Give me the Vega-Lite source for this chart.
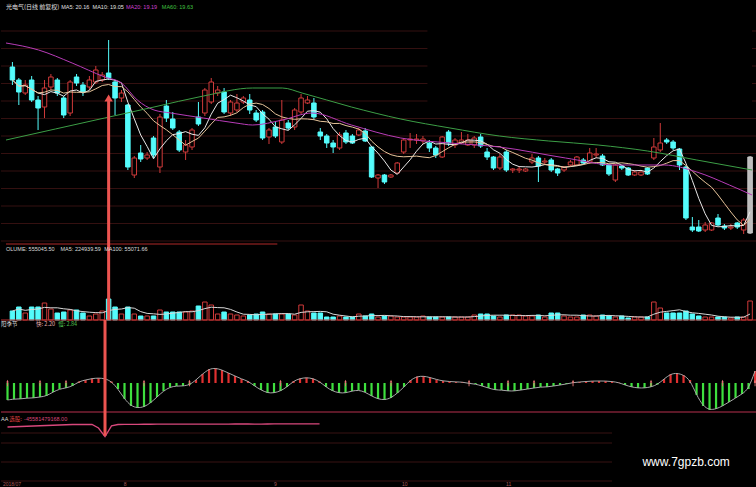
{
  "$schema": "https://vega.github.io/schema/vega-lite/v6.json",
  "background": "#000000",
  "padding": 0,
  "spacing": 0,
  "bounds": "flush",
  "config": {"view": {"stroke": null}, "font": "Noto Sans CJK SC"},
  "datasets": {
    "k": [
      {"i":0,"o":21.65,"h":21.9,"l":20.75,"c":21.0,"v":234000,"m":-1.7,"aa":-49.1},
      {"i":1,"o":21.0,"h":21.1,"l":19.75,"c":20.4,"v":338000,"m":-1.6,"aa":-48.2},
      {"i":2,"o":20.35,"h":21.0,"l":20.25,"c":20.75,"v":182000,"m":-1.6,"aa":-47.4},
      {"i":3,"o":21.0,"h":21.2,"l":19.9,"c":20.0,"v":338000,"m":-1.5,"aa":-46.5},
      {"i":4,"o":20.0,"h":20.2,"l":18.5,"c":19.6,"v":338000,"m":-1.5,"aa":-45.6},
      {"i":5,"o":19.65,"h":21.0,"l":19.1,"c":20.6,"v":442000,"m":-1.4,"aa":-44.8},
      {"i":6,"o":20.65,"h":21.3,"l":20.5,"c":21.15,"v":286000,"m":-1.3,"aa":-43.9},
      {"i":7,"o":21.0,"h":21.1,"l":20.2,"c":20.35,"v":182000,"m":-0.9,"aa":-43.0},
      {"i":8,"o":20.1,"h":20.2,"l":19.1,"c":19.25,"v":208000,"m":-0.6,"aa":-42.1},
      {"i":9,"o":19.35,"h":21.0,"l":19.2,"c":20.9,"v":260000,"m":-0.5,"aa":-41.3},
      {"i":10,"o":21.15,"h":21.3,"l":20.7,"c":20.85,"v":260000,"m":-0.3,"aa":-40.4},
      {"i":11,"o":20.75,"h":20.9,"l":20.2,"c":20.4,"v":182000,"m":0.15,"aa":-40.4},
      {"i":12,"o":20.65,"h":21.2,"l":20.5,"c":21.0,"v":104000,"m":0.3,"aa":-40.0},
      {"i":13,"o":20.9,"h":21.7,"l":20.8,"c":21.5,"v":156000,"m":0.45,"aa":-40.4},
      {"i":14,"o":21.0,"h":21.4,"l":20.9,"c":21.25,"v":234000,"m":0.5,"aa":-52.6},
      {"i":15,"o":21.35,"h":23.0,"l":21.0,"c":21.1,"v":546000,"m":0.45,"aa":-83.0},
      {"i":16,"o":20.9,"h":21.0,"l":19.25,"c":20.1,"v":338000,"m":0.15,"aa":-45.0},
      {"i":17,"o":20.1,"h":20.5,"l":19.9,"c":20.35,"v":156000,"m":-0.6,"aa":-40.4},
      {"i":18,"o":19.75,"h":19.8,"l":16.5,"c":16.65,"v":338000,"m":-1.6,"aa":-40.0},
      {"i":19,"o":16.25,"h":17.2,"l":16.1,"c":17.1,"v":156000,"m":-2.3,"aa":-39.8},
      {"i":20,"o":17.35,"h":17.75,"l":16.9,"c":17.05,"v":104000,"m":-2.5,"aa":-39.6},
      {"i":21,"o":17.1,"h":17.4,"l":17.0,"c":17.25,"v":104000,"m":-2.4,"aa":-39.5},
      {"i":22,"o":18.1,"h":18.2,"l":17.1,"c":17.25,"v":104000,"m":-2.0,"aa":-39.5},
      {"i":23,"o":16.65,"h":19.3,"l":16.35,"c":19.15,"v":260000,"m":-1.4,"aa":-39.3},
      {"i":24,"o":19.7,"h":20.0,"l":18.9,"c":19.1,"v":208000,"m":-0.8,"aa":-39.2},
      {"i":25,"o":19.05,"h":19.4,"l":18.5,"c":18.6,"v":208000,"m":-0.4,"aa":-39.2},
      {"i":26,"o":18.4,"h":18.5,"l":17.4,"c":17.5,"v":208000,"m":-0.3,"aa":-39.3},
      {"i":27,"o":17.4,"h":18.0,"l":17.0,"c":17.75,"v":208000,"m":-0.3,"aa":-39.1},
      {"i":28,"o":17.65,"h":18.6,"l":17.5,"c":18.5,"v":234000,"m":-0.2,"aa":-39.0},
      {"i":29,"o":19.15,"h":19.9,"l":18.7,"c":18.8,"v":364000,"m":0.3,"aa":-38.9},
      {"i":30,"o":19.35,"h":20.6,"l":19.2,"c":20.5,"v":468000,"m":0.9,"aa":-38.8},
      {"i":31,"o":19.9,"h":21.1,"l":19.8,"c":20.9,"v":390000,"m":1.4,"aa":-38.8},
      {"i":32,"o":20.35,"h":20.7,"l":20.2,"c":20.5,"v":156000,"m":1.5,"aa":-38.7},
      {"i":33,"o":20.4,"h":20.6,"l":19.3,"c":19.4,"v":208000,"m":1.3,"aa":-38.8},
      {"i":34,"o":19.35,"h":20.0,"l":19.2,"c":19.9,"v":156000,"m":1.0,"aa":-38.7},
      {"i":35,"o":19.5,"h":20.3,"l":19.4,"c":19.85,"v":130000,"m":0.7,"aa":-38.6},
      {"i":36,"o":19.9,"h":20.2,"l":19.8,"c":20.1,"v":104000,"m":0.4,"aa":-38.6},
      {"i":37,"o":20.0,"h":20.3,"l":19.3,"c":19.5,"v":130000,"m":0.2,"aa":-38.6},
      {"i":38,"o":19.35,"h":19.5,"l":18.9,"c":19.0,"v":156000,"m":-0.3,"aa":-38.7},
      {"i":39,"o":19.4,"h":19.5,"l":18.0,"c":18.1,"v":208000,"m":-0.7,"aa":-38.7},
      {"i":40,"o":18.15,"h":18.6,"l":17.8,"c":18.5,"v":156000,"m":-1.0,"aa":-38.6},
      {"i":41,"o":18.65,"h":18.9,"l":18.1,"c":18.2,"v":156000,"m":-1.0,"aa":-38.5},
      {"i":42,"o":17.9,"h":20.0,"l":17.8,"c":19.0,"v":156000,"m":-0.8,"aa":-38.5},
      {"i":43,"o":18.85,"h":19.0,"l":18.5,"c":18.6,"v":156000,"m":-0.4,"aa":-38.4},
      {"i":44,"o":18.65,"h":19.6,"l":18.5,"c":19.5,"v":130000,"m":0.2,"aa":-38.4},
      {"i":45,"o":19.4,"h":20.3,"l":19.3,"c":20.1,"v":390000,"m":0.45,"aa":-38.3},
      {"i":46,"o":19.85,"h":20.2,"l":19.8,"c":20.0,"v":234000,"m":0.55,"aa":-38.3},
      {"i":47,"o":19.85,"h":20.1,"l":19.0,"c":19.15,"v":182000,"m":0.45,"aa":-38.3},
      {"i":48,"o":18.4,"h":18.6,"l":18.0,"c":18.2,"v":182000,"m":0.15,"aa":-38.2},
      {"i":49,"o":18.2,"h":18.3,"l":17.6,"c":17.85,"v":78000,"m":-0.4},
      {"i":50,"o":17.85,"h":18.0,"l":17.35,"c":17.65,"v":78000,"m":-0.8},
      {"i":51,"o":17.6,"h":18.4,"l":17.5,"c":18.25,"v":104000,"m":-1.0},
      {"i":52,"o":18.35,"h":18.5,"l":17.8,"c":17.9,"v":78000,"m":-1.0},
      {"i":53,"o":18.2,"h":18.3,"l":17.8,"c":17.85,"v":78000,"m":-0.8},
      {"i":54,"o":18.25,"h":18.6,"l":18.2,"c":18.5,"v":156000,"m":-0.7},
      {"i":55,"o":18.45,"h":18.6,"l":17.9,"c":17.95,"v":104000,"m":-0.9},
      {"i":56,"o":17.65,"h":17.7,"l":16.1,"c":16.15,"v":156000,"m":-1.3},
      {"i":57,"o":16.1,"h":16.3,"l":15.6,"c":16.25,"v":78000,"m":-1.6},
      {"i":58,"o":16.25,"h":16.3,"l":15.8,"c":15.9,"v":104000,"m":-1.7},
      {"i":59,"o":16.15,"h":16.3,"l":16.1,"c":16.25,"v":104000,"m":-1.5},
      {"i":60,"o":16.35,"h":16.9,"l":16.3,"c":16.85,"v":78000,"m":-1.0},
      {"i":61,"o":17.4,"h":18.1,"l":17.3,"c":18.0,"v":78000,"m":-0.4},
      {"i":62,"o":18.0,"h":18.35,"l":17.6,"c":18.05,"v":78000,"m":0.3},
      {"i":63,"o":18.0,"h":18.3,"l":17.8,"c":18.05,"v":78000,"m":0.65},
      {"i":64,"o":17.95,"h":18.2,"l":17.8,"c":18.05,"v":104000,"m":0.7},
      {"i":65,"o":17.85,"h":18.0,"l":17.4,"c":17.6,"v":78000,"m":0.55},
      {"i":66,"o":17.6,"h":17.7,"l":17.1,"c":17.25,"v":78000,"m":0.35},
      {"i":67,"o":17.15,"h":18.2,"l":17.1,"c":18.15,"v":78000,"m":0.2},
      {"i":68,"o":18.4,"h":18.5,"l":17.7,"c":17.85,"v":78000,"m":0.15},
      {"i":69,"o":17.75,"h":18.1,"l":17.6,"c":18.0,"v":78000,"m":0.1},
      {"i":70,"o":17.85,"h":18.4,"l":17.8,"c":18.0,"v":78000,"m":0.1},
      {"i":71,"o":17.75,"h":18.3,"l":17.7,"c":18.0,"v":78000,"m":-0.05},
      {"i":72,"o":17.75,"h":18.2,"l":17.6,"c":18.1,"v":130000,"m":-0.1},
      {"i":73,"o":18.15,"h":18.3,"l":17.6,"c":17.7,"v":156000,"m":-0.3},
      {"i":74,"o":17.4,"h":17.6,"l":17.0,"c":17.15,"v":156000,"m":-0.5},
      {"i":75,"o":17.15,"h":17.2,"l":16.5,"c":16.6,"v":104000,"m":-0.7},
      {"i":76,"o":16.6,"h":17.3,"l":16.5,"c":17.15,"v":78000,"m":-0.7},
      {"i":77,"o":17.4,"h":17.5,"l":16.4,"c":16.5,"v":130000,"m":-0.8},
      {"i":78,"o":16.5,"h":16.6,"l":16.35,"c":16.55,"v":130000,"m":-0.8},
      {"i":79,"o":16.5,"h":16.7,"l":16.35,"c":16.55,"v":130000,"m":-0.7},
      {"i":80,"o":16.45,"h":16.6,"l":16.4,"c":16.55,"v":104000,"m":-0.6},
      {"i":81,"o":16.9,"h":17.3,"l":16.8,"c":17.1,"v":104000,"m":-0.5},
      {"i":82,"o":17.1,"h":17.2,"l":15.9,"c":16.7,"v":130000,"m":-0.4},
      {"i":83,"o":16.9,"h":17.1,"l":16.8,"c":16.95,"v":78000,"m":-0.4},
      {"i":84,"o":17.0,"h":17.1,"l":16.4,"c":16.5,"v":182000,"m":-0.3},
      {"i":85,"o":16.55,"h":16.6,"l":16.2,"c":16.35,"v":182000,"m":-0.2},
      {"i":86,"o":16.5,"h":16.7,"l":16.4,"c":16.65,"v":104000,"m":-0.1},
      {"i":87,"o":16.75,"h":17.0,"l":16.7,"c":16.9,"v":78000,"m":0.05},
      {"i":88,"o":16.75,"h":17.2,"l":16.7,"c":17.15,"v":78000,"m":0.1},
      {"i":89,"o":17.0,"h":17.1,"l":16.8,"c":16.85,"v":130000,"m":0.15},
      {"i":90,"o":16.9,"h":17.6,"l":16.8,"c":17.35,"v":130000,"m":0.2},
      {"i":91,"o":17.25,"h":17.6,"l":17.1,"c":17.3,"v":104000,"m":0.2},
      {"i":92,"o":17.2,"h":17.3,"l":16.7,"c":16.75,"v":130000,"m":0.2},
      {"i":93,"o":16.75,"h":16.8,"l":16.2,"c":16.3,"v":104000,"m":0.15},
      {"i":94,"o":16.0,"h":16.8,"l":15.9,"c":16.75,"v":78000,"m":0.05},
      {"i":95,"o":16.7,"h":16.75,"l":16.5,"c":16.6,"v":104000,"m":-0.2},
      {"i":96,"o":16.6,"h":16.65,"l":16.2,"c":16.25,"v":52000,"m":-0.4},
      {"i":97,"o":16.25,"h":16.5,"l":16.2,"c":16.4,"v":78000,"m":-0.5},
      {"i":98,"o":16.25,"h":16.5,"l":16.2,"c":16.4,"v":78000,"m":-0.5},
      {"i":99,"o":16.6,"h":16.65,"l":16.25,"c":16.3,"v":78000,"m":-0.4},
      {"i":100,"o":17.1,"h":18.1,"l":17.0,"c":17.65,"v":468000,"m":-0.15},
      {"i":101,"o":17.5,"h":18.85,"l":17.4,"c":17.85,"v":312000,"m":0.4},
      {"i":102,"o":18.0,"h":18.1,"l":17.8,"c":17.9,"v":182000,"m":0.9},
      {"i":103,"o":17.9,"h":18.0,"l":17.5,"c":17.6,"v":182000,"m":1.0},
      {"i":104,"o":17.55,"h":17.6,"l":16.5,"c":16.75,"v":182000,"m":0.8},
      {"i":105,"o":16.65,"h":16.7,"l":14.0,"c":14.1,"v":234000,"m":0.3},
      {"i":106,"o":13.65,"h":14.15,"l":13.4,"c":13.5,"v":156000,"m":-1.2},
      {"i":107,"o":13.65,"h":14.0,"l":13.4,"c":13.45,"v":104000,"m":-2.3},
      {"i":108,"o":13.5,"h":13.9,"l":13.4,"c":13.75,"v":78000,"m":-2.7},
      {"i":109,"o":13.5,"h":13.9,"l":13.45,"c":13.85,"v":78000,"m":-2.6},
      {"i":110,"o":14.1,"h":14.3,"l":13.7,"c":13.75,"v":78000,"m":-2.3},
      {"i":111,"o":13.7,"h":13.8,"l":13.5,"c":13.6,"v":78000,"m":-1.9},
      {"i":112,"o":13.6,"h":13.8,"l":13.5,"c":13.65,"v":52000,"m":-1.5},
      {"i":113,"o":13.85,"h":13.9,"l":13.55,"c":13.65,"v":78000,"m":-1.1},
      {"i":114,"o":13.5,"h":14.1,"l":13.3,"c":14.0,"v":78000,"m":-0.6},
      {"i":115,"o":13.35,"h":17.2,"l":13.3,"c":17.15,"v":494000,"m":1.2}
    ],
    "ma": [
      {"i":-1,"p":22.85,"s":"MA20"},{"i":4.08,"p":22.5,"s":"MA20"},{"i":9.31,"p":21.85,"s":"MA20"},{"i":14.38,"p":21.15,"s":"MA20"},{"i":17,"p":20.85,"s":"MA20"},{"i":19.46,"p":20.0,"s":"MA20"},{"i":22.08,"p":19.5,"s":"MA20"},{"i":24.69,"p":19.35,"s":"MA20"},{"i":29.77,"p":19.1,"s":"MA20"},{"i":34.85,"p":18.85,"s":"MA20"},{"i":37.46,"p":18.75,"s":"MA20"},{"i":42.08,"p":19.0,"s":"MA20"},{"i":46.69,"p":19.35,"s":"MA20"},{"i":52.85,"p":18.75,"s":"MA20"},{"i":60.54,"p":18.1,"s":"MA20"},{"i":68.23,"p":17.85,"s":"MA20"},{"i":75.92,"p":17.65,"s":"MA20"},{"i":86.23,"p":17.1,"s":"MA20"},{"i":93.92,"p":16.75,"s":"MA20"},{"i":101.62,"p":16.75,"s":"MA20"},{"i":106.69,"p":16.4,"s":"MA20"},{"i":111.77,"p":15.75,"s":"MA20"},{"i":115.31,"p":15.25,"s":"MA20"},
      {"i":-1,"p":18.0,"s":"MA60"},{"i":6.69,"p":18.55,"s":"MA60"},{"i":14.38,"p":19.1,"s":"MA60"},{"i":22.08,"p":19.65,"s":"MA60"},{"i":29.77,"p":20.2,"s":"MA60"},{"i":37.46,"p":20.6,"s":"MA60"},{"i":42.08,"p":20.6,"s":"MA60"},{"i":45.15,"p":20.35,"s":"MA60"},{"i":52.85,"p":19.65,"s":"MA60"},{"i":60.54,"p":19.05,"s":"MA60"},{"i":68.23,"p":18.6,"s":"MA60"},{"i":75.92,"p":18.2,"s":"MA60"},{"i":83.62,"p":17.95,"s":"MA60"},{"i":91.31,"p":17.75,"s":"MA60"},{"i":99,"p":17.45,"s":"MA60"},{"i":106.69,"p":17.0,"s":"MA60"},{"i":115.31,"p":16.5,"s":"MA60"}
    ],
    "sig": [{"i":0},{"i":5},{"i":9},{"i":21},{"i":28},{"i":42},{"i":52},{"i":59},{"i":71},{"i":77},{"i":81},{"i":87},{"i":99},{"i":110},{"i":115}],
    "pg": [{"g":23.45},{"g":22.575},{"g":21.7},{"g":20.825},{"g":19.95},{"g":19.075},{"g":18.2},{"g":17.325},{"g":16.45},{"g":15.575},{"g":14.7},{"g":13.825},{"g":12.95}],
    "ag": [{"g":-70.1},{"g":-105.1},{"g":-171.6},{"g":-238.1}],
    "dates": [{"i":-0.7,"t":"2018/07"},{"i":17.9,"t":"8"},{"i":41,"t":"9"},{"i":60.7,"t":"10"},{"i":76.7,"t":"11"}]
  },
  "vconcat": [
    {
      "width": 756,
      "height": 245,
      "layer": [
        {
          "data": {"name": "pg"},
          "mark": {"type": "rule", "strokeWidth": 1, "color": "#341010"},
          "encoding": {
            "y": {"field": "g", "type": "quantitative", "scale": {"domain": [12.75, 25], "nice": false, "zero": false}, "axis": null}
          }
        },
        {
          "data": {"values": [{}]},
          "mark": {"type": "rect", "fill": "#000000"},
          "encoding": {
            "x": {"datum": 64.7, "type": "quantitative", "scale": {"domain": [-1, 115.3], "nice": false, "zero": false}, "axis": null},
            "x2": {"datum": 115.3},
            "y": {"datum": 19.5, "type": "quantitative", "axis": null},
            "y2": {"datum": 25}
          }
        },
        {
          "data": {"name": "k"},
          "mark": {"type": "rule", "strokeWidth": 1},
          "encoding": {
            "x": {"field": "i", "type": "quantitative", "axis": null},
            "y": {"field": "l", "type": "quantitative", "axis": null},
            "y2": {"field": "h"},
            "color": {"condition": [{"test": "datum.i == 115", "value": "#c8c8c8"}, {"test": "datum.c >= datum.o", "value": "#d03a3a"}], "value": "#54fcfc"}
          }
        },
        {
          "data": {"name": "k"},
          "mark": {"type": "bar", "size": 4.5, "orient": "vertical", "strokeWidth": 1},
          "encoding": {
            "x": {"field": "i", "type": "quantitative", "axis": null},
            "y": {"field": "o", "type": "quantitative", "axis": null},
            "y2": {"field": "c"},
            "fill": {"condition": [{"test": "datum.i == 115", "value": "#bdbdbd"}, {"test": "datum.c >= datum.o", "value": "#000000"}], "value": "#54fcfc"},
            "stroke": {"condition": [{"test": "datum.i == 115", "value": "#c8c8c8"}, {"test": "datum.c >= datum.o", "value": "#d03a3a"}], "value": "#54fcfc"}
          }
        },
        {
          "data": {"name": "k"},
          "transform": [{"window": [{"op": "mean", "field": "c", "as": "ma5"}], "frame": [-4, 0], "sort": [{"field": "i"}]}],
          "mark": {"type": "line", "strokeWidth": 1, "color": "#e8e8e8"},
          "encoding": {
            "x": {"field": "i", "type": "quantitative", "axis": null},
            "y": {"field": "ma5", "type": "quantitative", "axis": null}
          }
        },
        {
          "data": {"name": "k"},
          "transform": [{"window": [{"op": "mean", "field": "c", "as": "ma10"}], "frame": [-9, 0], "sort": [{"field": "i"}]}],
          "mark": {"type": "line", "strokeWidth": 1, "color": "#e6c49a"},
          "encoding": {
            "x": {"field": "i", "type": "quantitative", "axis": null},
            "y": {"field": "ma10", "type": "quantitative", "axis": null}
          }
        },
        {
          "data": {"name": "ma"},
          "mark": {"type": "line", "strokeWidth": 1, "interpolate": "monotone"},
          "encoding": {
            "x": {"field": "i", "type": "quantitative", "axis": null},
            "y": {"field": "p", "type": "quantitative", "axis": null},
            "color": {"field": "s", "type": "nominal", "scale": {"domain": ["MA20", "MA60"], "range": ["#b83cb8", "#3c9e46"]}, "legend": null}
          }
        },
        {
          "data": {"values": [{}]},
          "mark": {"type": "rule", "strokeWidth": 1, "color": "#b02828"},
          "encoding": {
            "x": {"datum": -1, "type": "quantitative", "axis": null},
            "x2": {"datum": 41.3},
            "y": {"datum": 12.8, "type": "quantitative", "axis": null}
          }
        },
        {
          "data": {"values": [{}]},
          "mark": {"type": "rule", "strokeWidth": 3, "color": "#ec5450"},
          "encoding": {
            "x": {"datum": 15, "type": "quantitative", "axis": null},
            "y": {"datum": 20.0, "type": "quantitative", "axis": null},
            "y2": {"datum": 12.75}
          }
        },
        {
          "data": {"values": [{}]},
          "mark": {"type": "point", "shape": "triangle-up", "size": 70, "filled": true, "color": "#ec5450", "opacity": 1},
          "encoding": {
            "x": {"datum": 15, "type": "quantitative", "axis": null},
            "y": {"datum": 20.1, "type": "quantitative", "axis": null}
          }
        },
        {
          "data": {"values": [{}]},
          "mark": {"type": "text", "align": "left", "baseline": "middle", "fontSize": 6, "color": "#e0e0e0"},
          "encoding": {"x": {"datum": -1, "type": "quantitative", "axis": null}, "y": {"datum": 24.65, "type": "quantitative", "axis": null}, "text": {"value": "光电气(日线 前复权)"}}
        },
        {
          "data": {"values": [{}]},
          "mark": {"type": "text", "align": "left", "baseline": "middle", "fontSize": 5.5, "font": "Liberation Sans", "color": "#e0e0e0"},
          "encoding": {"x": {"datum": 7.6, "type": "quantitative", "axis": null}, "y": {"datum": 24.65, "type": "quantitative", "axis": null}, "text": {"value": "MA5: 20.16"}}
        },
        {
          "data": {"values": [{}]},
          "mark": {"type": "text", "align": "left", "baseline": "middle", "fontSize": 5.5, "font": "Liberation Sans", "color": "#e0e0e0"},
          "encoding": {"x": {"datum": 12.5, "type": "quantitative", "axis": null}, "y": {"datum": 24.65, "type": "quantitative", "axis": null}, "text": {"value": "MA10: 19.05"}}
        },
        {
          "data": {"values": [{}]},
          "mark": {"type": "text", "align": "left", "baseline": "middle", "fontSize": 5.5, "font": "Liberation Sans", "color": "#d040d0"},
          "encoding": {"x": {"datum": 17.7, "type": "quantitative", "axis": null}, "y": {"datum": 24.65, "type": "quantitative", "axis": null}, "text": {"value": "MA20: 19.19"}}
        },
        {
          "data": {"values": [{}]},
          "mark": {"type": "text", "align": "left", "baseline": "middle", "fontSize": 5.5, "font": "Liberation Sans", "color": "#40c040"},
          "encoding": {"x": {"datum": 23.3, "type": "quantitative", "axis": null}, "y": {"datum": 24.65, "type": "quantitative", "axis": null}, "text": {"value": "MA60: 19.63"}}
        }
      ]
    },
    {
      "width": 756,
      "height": 75,
      "layer": [
        {
          "data": {"name": "k"},
          "mark": {"type": "bar", "size": 4.5, "orient": "vertical", "strokeWidth": 1},
          "encoding": {
            "x": {"field": "i", "type": "quantitative", "scale": {"domain": [-1, 115.3], "nice": false, "zero": false}, "axis": null},
            "y": {"field": "v", "type": "quantitative", "scale": {"domain": [0, 1950000], "nice": false}, "axis": null},
            "y2": {"datum": 0},
            "fill": {"condition": {"test": "datum.c >= datum.o", "value": "#000000"}, "value": "#54fcfc"},
            "stroke": {"condition": {"test": "datum.c >= datum.o", "value": "#d03a3a"}, "value": "#54fcfc"}
          }
        },
        {
          "data": {"name": "k"},
          "transform": [{"window": [{"op": "mean", "field": "v", "as": "vma"}], "frame": [-4, 0], "sort": [{"field": "i"}]}],
          "mark": {"type": "line", "strokeWidth": 1, "color": "#d8d8d8"},
          "encoding": {
            "x": {"field": "i", "type": "quantitative", "axis": null},
            "y": {"field": "vma", "type": "quantitative", "axis": null}
          }
        },
        {
          "data": {"values": [{}]},
          "mark": {"type": "rule", "strokeWidth": 1, "color": "#b83030"},
          "encoding": {"y": {"datum": 0, "type": "quantitative", "axis": null}}
        },
        {
          "data": {"values": [{}]},
          "mark": {"type": "rule", "strokeWidth": 3, "color": "#ec5450"},
          "encoding": {"x": {"datum": 15, "type": "quantitative", "axis": null}}
        },
        {
          "data": {"values": [{}]},
          "mark": {"type": "text", "align": "left", "baseline": "middle", "fontSize": 5.5, "font": "Liberation Sans", "color": "#dcdcdc"},
          "encoding": {"x": {"datum": -1, "type": "quantitative", "axis": null}, "y": {"datum": 1846000, "type": "quantitative", "axis": null}, "text": {"value": "OLUME: 555045.50"}}
        },
        {
          "data": {"values": [{}]},
          "mark": {"type": "text", "align": "left", "baseline": "middle", "fontSize": 5.5, "font": "Liberation Sans", "color": "#dcdcdc"},
          "encoding": {"x": {"datum": 7.5, "type": "quantitative", "axis": null}, "y": {"datum": 1846000, "type": "quantitative", "axis": null}, "text": {"value": "MA5: 224939.59"}}
        },
        {
          "data": {"values": [{}]},
          "mark": {"type": "text", "align": "left", "baseline": "middle", "fontSize": 5.5, "font": "Liberation Sans", "color": "#dcdcdc"},
          "encoding": {"x": {"datum": 14.3, "type": "quantitative", "axis": null}, "y": {"datum": 1846000, "type": "quantitative", "axis": null}, "text": {"value": "MA100: 55071.66"}}
        }
      ]
    },
    {
      "width": 756,
      "height": 92,
      "layer": [
        {
          "data": {"name": "k"},
          "mark": {"type": "rule", "strokeWidth": 2.2},
          "encoding": {
            "x": {"field": "i", "type": "quantitative", "scale": {"domain": [-1, 115.3], "nice": false, "zero": false}, "axis": null},
            "y": {"field": "m", "type": "quantitative", "scale": {"domain": [-2.9, 6.3], "nice": false, "zero": false}, "axis": null},
            "y2": {"datum": 0},
            "color": {"condition": {"test": "datum.m > 0", "value": "#e03030"}, "value": "#3ee03e"}
          }
        },
        {
          "data": {"name": "k"},
          "mark": {"type": "line", "strokeWidth": 1, "color": "#a8a8a8", "interpolate": "basis"},
          "encoding": {
            "x": {"field": "i", "type": "quantitative", "axis": null},
            "y": {"field": "m", "type": "quantitative", "axis": null}
          }
        },
        {
          "data": {"name": "sig"},
          "mark": {"type": "point", "shape": "arrow", "size": 40, "filled": true, "color": "#e87878", "opacity": 1},
          "encoding": {
            "x": {"field": "i", "type": "quantitative", "axis": null},
            "y": {"datum": 0, "type": "quantitative", "axis": null}
          }
        },
        {
          "data": {"values": [{}]},
          "mark": {"type": "rule", "strokeWidth": 1, "color": "#b8304e"},
          "encoding": {"y": {"datum": -2.9, "type": "quantitative", "axis": null}}
        },
        {
          "data": {"values": [{}]},
          "mark": {"type": "rule", "strokeWidth": 3, "color": "#ec5450"},
          "encoding": {"x": {"datum": 15, "type": "quantitative", "axis": null}}
        },
        {
          "data": {"values": [{}]},
          "mark": {"type": "text", "align": "left", "baseline": "middle", "fontSize": 5.5, "color": "#dcdcdc"},
          "encoding": {"x": {"datum": -1, "type": "quantitative", "axis": null}, "y": {"datum": 5.9, "type": "quantitative", "axis": null}, "text": {"value": "阳季节"}}
        },
        {
          "data": {"values": [{}]},
          "mark": {"type": "text", "align": "left", "baseline": "middle", "fontSize": 5.5, "color": "#e8b0b0"},
          "encoding": {"x": {"datum": 4.4, "type": "quantitative", "axis": null}, "y": {"datum": 5.9, "type": "quantitative", "axis": null}, "text": {"value": "快: 2.20"}}
        },
        {
          "data": {"values": [{}]},
          "mark": {"type": "text", "align": "left", "baseline": "middle", "fontSize": 5.5, "color": "#50c050"},
          "encoding": {"x": {"datum": 7.8, "type": "quantitative", "axis": null}, "y": {"datum": 5.9, "type": "quantitative", "axis": null}, "text": {"value": "慢: 2.84"}}
        }
      ]
    },
    {
      "width": 756,
      "height": 75,
      "layer": [
        {
          "data": {"name": "ag"},
          "mark": {"type": "rule", "strokeWidth": 1, "color": "#381212"},
          "encoding": {
            "x": {"datum": -1, "type": "quantitative", "scale": {"domain": [-1, 115.3], "nice": false, "zero": false}, "axis": null},
            "x2": {"datum": 93},
            "y": {"field": "g", "type": "quantitative", "scale": {"domain": [-259.1, 3.4], "nice": false, "zero": false}, "axis": null}
          }
        },
        {
          "data": {"name": "k"},
          "transform": [{"filter": "isValid(datum.aa)"}],
          "mark": {"type": "line", "strokeWidth": 1.3, "color": "#d8487c"},
          "encoding": {
            "x": {"field": "i", "type": "quantitative", "axis": null},
            "y": {"field": "aa", "type": "quantitative", "axis": null}
          }
        },
        {
          "data": {"values": [{}]},
          "mark": {"type": "rule", "strokeWidth": 3, "color": "#ec5450"},
          "encoding": {
            "x": {"datum": 15, "type": "quantitative", "axis": null},
            "y": {"datum": 3.4, "type": "quantitative", "axis": null},
            "y2": {"datum": -80}
          }
        },
        {
          "data": {"name": "dates"},
          "mark": {"type": "text", "align": "left", "baseline": "middle", "fontSize": 5, "font": "Liberation Sans", "color": "#a85858"},
          "encoding": {
            "x": {"field": "i", "type": "quantitative", "axis": null},
            "y": {"datum": -249, "type": "quantitative", "axis": null},
            "text": {"field": "t"}
          }
        },
        {
          "data": {"values": [{}]},
          "mark": {"type": "rect", "fill": "#000000"},
          "encoding": {
            "x": {"datum": 93, "type": "quantitative", "axis": null},
            "x2": {"datum": 115.3},
            "y": {"datum": -82, "type": "quantitative", "axis": null},
            "y2": {"datum": -259.1}
          }
        },
        {
          "data": {"values": [{}]},
          "mark": {"type": "text", "align": "center", "baseline": "middle", "fontSize": 12, "font": "Liberation Sans", "color": "#ffffff"},
          "encoding": {"x": {"datum": 104.4, "type": "quantitative", "axis": null}, "y": {"datum": -171.6, "type": "quantitative", "axis": null}, "text": {"value": "www.7gpzb.com"}}
        },
        {
          "data": {"values": [{}]},
          "mark": {"type": "text", "align": "left", "baseline": "middle", "fontSize": 5.5, "font": "Liberation Sans", "color": "#dcdcdc"},
          "encoding": {"x": {"datum": -1, "type": "quantitative", "axis": null}, "y": {"datum": -21.1, "type": "quantitative", "axis": null}, "text": {"value": "AA"}}
        },
        {
          "data": {"values": [{}]},
          "mark": {"type": "text", "align": "left", "baseline": "middle", "fontSize": 5.5, "color": "#e04040"},
          "encoding": {"x": {"datum": 0.25, "type": "quantitative", "axis": null}, "y": {"datum": -21.1, "type": "quantitative", "axis": null}, "text": {"value": "选股:"}}
        },
        {
          "data": {"values": [{}]},
          "mark": {"type": "text", "align": "left", "baseline": "middle", "fontSize": 5.5, "font": "Liberation Sans", "color": "#d8487c"},
          "encoding": {"x": {"datum": 2.55, "type": "quantitative", "axis": null}, "y": {"datum": -21.1, "type": "quantitative", "axis": null}, "text": {"value": "-45581479168.00"}}
        }
      ]
    }
  ]
}
